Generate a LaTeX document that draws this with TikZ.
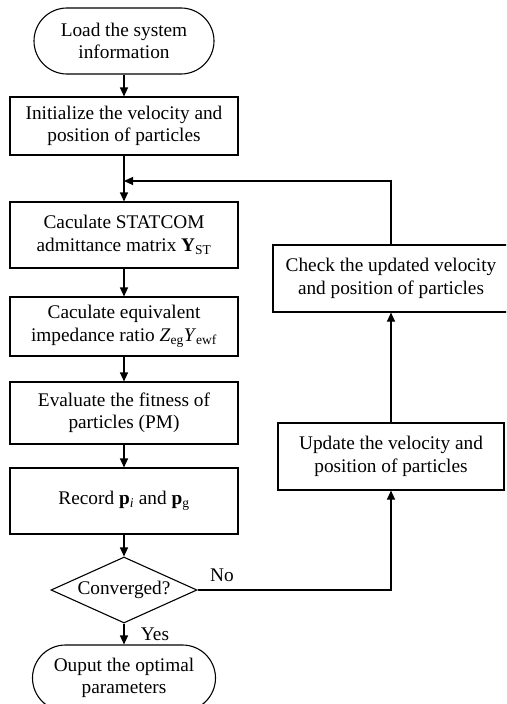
\documentclass[tikz,border=0pt]{standalone}
\usepackage{fontspec}
\setmainfont{Liberation Serif}
\usetikzlibrary{shapes.geometric,arrows.meta}
\begin{document}
\begin{tikzpicture}[x=1pt,y=-1pt,
  every node/.style={font=\fontsize{19.3}{22.5}\selectfont},
  base/.style={draw,line width=1.1pt,align=center,inner sep=0pt},
  procbox/.style={base,rectangle,minimum width=228pt},
  termbox/.style={base,rectangle,rounded corners=33pt,minimum height=66pt},
  decbox/.style={base,diamond,aspect=2.21,minimum width=146pt,minimum height=66pt},
  conn/.style={line width=1.1pt},
  arr/.style={conn,-{Triangle[length=9pt,width=8pt]}}]
\useasboundingbox (0,0) rectangle (506,704);
\begin{scope}
\clip (0,0) rectangle (506,704);
\node[termbox,minimum width=180pt] (start) at (124,41) {Load the system\\information};
\node[procbox,minimum height=58pt] (init) at (124,126) {Initialize the velocity and\\position of particles};
\coordinate (junc) at (124,181);
\node[procbox,minimum height=66pt] (ycalc) at (124,235) {Caculate STATCOM\\admittance matrix \textbf{Y}\textsubscript{ST}};
\node[procbox,minimum height=59pt] (zcalc) at (124,326.5) {Caculate equivalent\\impedance ratio \textit{Z}\textsubscript{eg}\textit{Y}\textsubscript{ewf}};
\node[procbox,minimum height=62pt] (eval) at (124,413) {Evaluate the fitness of\\particles (PM)};
\node[procbox,minimum height=66pt] (record) at (124,501) {Record \textbf{p}\textsubscript{\textit{i}} and \textbf{p}\textsubscript{g}};
\node[decbox] (conv) at (124,590) {Converged?};
\node[termbox,minimum width=183pt] (stop) at (124,678) {Ouput the optimal\\parameters};
\node[procbox,minimum width=236pt,minimum height=67pt] (check) at (391,278.5) {Check the updated velocity\\and position of particles};
\node[procbox,minimum width=226pt,minimum height=67pt] (update) at (391,456.5) {Update the velocity and\\position of particles};
\node (no) at (222,575) {No};
\node (yes) at (155,634) {Yes};
\draw[arr] (start) -- (init);
\draw[conn] (init) -- (junc);
\draw[arr] (junc) -- (ycalc);
\draw[arr] (ycalc) -- (zcalc);
\draw[arr] (zcalc) -- (eval);
\draw[arr] (eval) -- (record);
\draw[arr] (record) -- (conv);
\draw[arr] (conv) -- (stop);
\draw[arr] (conv.east) -| (update.south);
\draw[arr] (update) -- (check);
\draw[arr] (check.north) |- (junc);
\end{scope}
\end{tikzpicture}
\end{document}
